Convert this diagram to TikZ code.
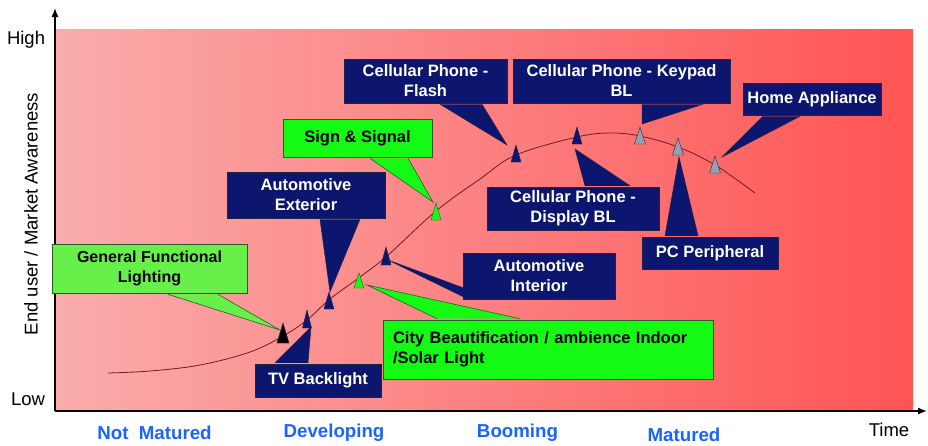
\documentclass[tikz,border=0pt]{standalone}
\usepackage{fontspec}
\setmainfont{Liberation Sans}
\usepackage{tikz}
\usetikzlibrary{arrows.meta}
\definecolor{bgleft}{RGB}{250,172,172}
\definecolor{bgright}{RGB}{255,84,84}
\definecolor{navyfill}{RGB}{12,22,110}
\definecolor{navyline}{RGB}{35,35,70}
\definecolor{limefill}{RGB}{20,250,20}
\definecolor{palelime}{RGB}{104,240,74}
\definecolor{limeline}{RGB}{45,90,45}
\definecolor{greymark}{RGB}{150,160,178}
\definecolor{phaseblue}{RGB}{25,100,255}
\definecolor{curvered}{RGB}{110,30,30}
\begin{document}
\begin{tikzpicture}[x=1pt,y=1pt,yscale=-1,xscale=1,
  navybox/.style={draw=navyline, line width=0.5pt, fill=navyfill, text=white, font=\bfseries\fontsize{16.5}{20}\selectfont, align=center, inner sep=2pt},
  navytip/.style={draw=navyline, line width=0.5pt, fill=navyfill},
  limebox/.style={draw=limeline, line width=0.6pt, fill=limefill, text=black, font=\bfseries\fontsize{16.5}{20}\selectfont, align=center, inner sep=2pt},
  limetip/.style={draw=limeline, line width=0.6pt, fill=limefill},
  phase/.style={text=phaseblue, font=\bfseries\fontsize{18.7}{22}\selectfont},
  axislabel/.style={font=\fontsize{18.5}{22}\selectfont, inner sep=0.75pt},
  marker/.style={draw=navyline, line width=0.4pt}
]
\useasboundingbox (0,0) rectangle (928,445);

%Shape: Rectangle [background]
\shade[left color=bgleft, right color=bgright] (55,29) rectangle (913,411);

%Shape: Axis 2D
\draw[line width=1.4pt, -{Latex[length=9pt,width=7pt]}] (55,411) -- (55,8);
\draw[line width=1.4pt, -{Latex[length=9pt,width=7pt]}] (55,411) -- (927,411);

% Text Node
\node[axislabel, anchor=east] (high) at (46,40) {High};
% Text Node
\node[axislabel, anchor=east] (low) at (46,399) {Low};
% Text Node
\node[axislabel, rotate=90] (awareness) at (31,214) {End user / Market Awareness};
% Text Node
\node[axislabel] (time) at (889,430) {Time};

% Text Node
\node[phase] (notmat) at (154.5,433) {Not~~Matured};
% Text Node
\node[phase] (develop) at (334,433) {Developing};
% Text Node
\node[phase] (boom) at (517.5,433) {Booming};
% Text Node
\node[phase] (matured) at (684,435) {Matured};

%Shape: Curve
\draw[curvered, line width=0.8pt] plot[smooth, tension=0.6] coordinates {(108,373) (150,371) (200,365) (250,352) (283,336) (307,320) (330,299) (360,277) (387,256) (436,211) (480,179) (516,155) (577,137) (610,133) (640,136) (678,147) (715,165) (755,193)};

% tips of the callouts
\coordinate (tgenfunc) at (280,330);
\coordinate (ttvback) at (311,327);
\coordinate (tautoext) at (330,292);
\coordinate (tsign) at (433,202);
\coordinate (tflash) at (507,145);
\coordinate (tkeypad) at (642,124);
\coordinate (thomeapp) at (722,157);
\coordinate (tdisplay) at (575,149);
\coordinate (tpcper) at (679,157);
\coordinate (tautoint) at (388,260);
\coordinate (tcity) at (367,285);

% Callout boxes
\node[limebox, fill=palelime, minimum width=195, minimum height=49, font=\bfseries\fontsize{16}{20}\selectfont] (genfunc) at (149.5,268.5) {General Functional\\Lighting};
\node[navybox, minimum width=126, minimum height=33] (tvback) at (318,380.5) {TV Backlight};
\node[navybox, minimum width=158, minimum height=46] (autoext) at (306,195) {Automotive\\Exterior};
\node[limebox, minimum width=149, minimum height=38] (sign) at (357.5,138) {Sign \& Signal};
\node[navybox, minimum width=163, minimum height=44] (flash) at (425.5,81) {Cellular Phone -\\Flash};
\node[navybox, minimum width=217, minimum height=44] (keypad) at (621.5,81) {Cellular Phone - Keypad\\BL};
\node[navybox, minimum width=138, minimum height=32] (homeapp) at (812,99) {Home Appliance};
\node[navybox, minimum width=172, minimum height=43] (display) at (573,208.5) {Cellular Phone -\\Display BL};
\node[navybox, minimum width=136, minimum height=32] (pcper) at (710,253) {PC Peripheral};
\node[navybox, minimum width=152, minimum height=46] (autoint) at (539,276) {Automotive\\Interior};
\node[limebox, minimum width=330, minimum height=59, text width=310, inner xsep=10pt, align=left] (city) at (548,349.5) {City Beautification / ambience Indoor\\/Solar Light};

%Shape: Triangle [pointers]
\filldraw[limetip, fill=palelime] ([xshift=18.5pt,yshift=1pt]genfunc.south) -- (tgenfunc) -- ([xshift=68.5pt,yshift=1pt]genfunc.south);
\filldraw[navytip] ([xshift=-43pt,yshift=-1pt]tvback.north) -- (ttvback) -- ([xshift=-10pt,yshift=-1pt]tvback.north);
\filldraw[navytip] ([xshift=14pt,yshift=1pt]autoext.south) -- (tautoext) -- ([xshift=54pt,yshift=1pt]autoext.south);
\filldraw[limetip] ([xshift=12.5pt,yshift=1pt]sign.south) -- (tsign) -- ([xshift=50.5pt,yshift=1pt]sign.south);
\filldraw[navytip] ([xshift=14.5pt,yshift=1pt]flash.south) -- (tflash) -- ([xshift=56.5pt,yshift=1pt]flash.south);
\filldraw[navytip] ([xshift=20.5pt,yshift=1pt]keypad.south) -- (tkeypad) -- ([xshift=81.5pt,yshift=1pt]keypad.south);
\filldraw[navytip] ([xshift=-49pt,yshift=1pt]homeapp.south) -- (thomeapp) -- ([xshift=-12pt,yshift=1pt]homeapp.south);
\filldraw[navytip] ([xshift=12pt,yshift=-1pt]display.north) -- (tdisplay) -- ([xshift=57pt,yshift=-1pt]display.north);
\filldraw[navytip] ([xshift=-45pt,yshift=-1pt]pcper.north) -- (tpcper) -- ([xshift=-12pt,yshift=-1pt]pcper.north);
\filldraw[navytip] ([xshift=1pt,yshift=21pt]autoint.west) -- (tautoint) -- ([xshift=1pt,yshift=12pt]autoint.west);
\filldraw[limetip] ([xshift=-111pt,yshift=-1pt]city.north) -- (tcity) -- ([xshift=-28pt,yshift=-1pt]city.north);

%Shape: Triangle [markers on the curve]
\filldraw[marker, fill=black] (283,323) -- ++(6,20) -- ++(-12,0) -- cycle;
\filldraw[marker, fill=navyfill] (307,310) -- ++(4.5,18) -- ++(-9,0) -- cycle;
\filldraw[marker, fill=navyfill] (329,292) -- ++(5,17) -- ++(-10,0) -- cycle;
\filldraw[marker, draw=limeline, fill=limefill] (359,273) -- ++(5,15) -- ++(-10,0) -- cycle;
\filldraw[marker, fill=navyfill] (386,247) -- ++(5,18) -- ++(-10,0) -- cycle;
\filldraw[marker, draw=limeline, fill=limefill] (436,203) -- ++(5,17) -- ++(-10,0) -- cycle;
\filldraw[marker, fill=navyfill] (516,145) -- ++(5,17) -- ++(-10,0) -- cycle;
\filldraw[marker, fill=navyfill] (577,127) -- ++(5,17) -- ++(-10,0) -- cycle;
\filldraw[marker, fill=greymark] (640,127) -- ++(5.5,17) -- ++(-11,0) -- cycle;
\filldraw[marker, fill=greymark] (678,138) -- ++(5.5,17) -- ++(-11,0) -- cycle;
\filldraw[marker, fill=greymark] (715,156) -- ++(5.5,17) -- ++(-11,0) -- cycle;

\end{tikzpicture}
\end{document}
